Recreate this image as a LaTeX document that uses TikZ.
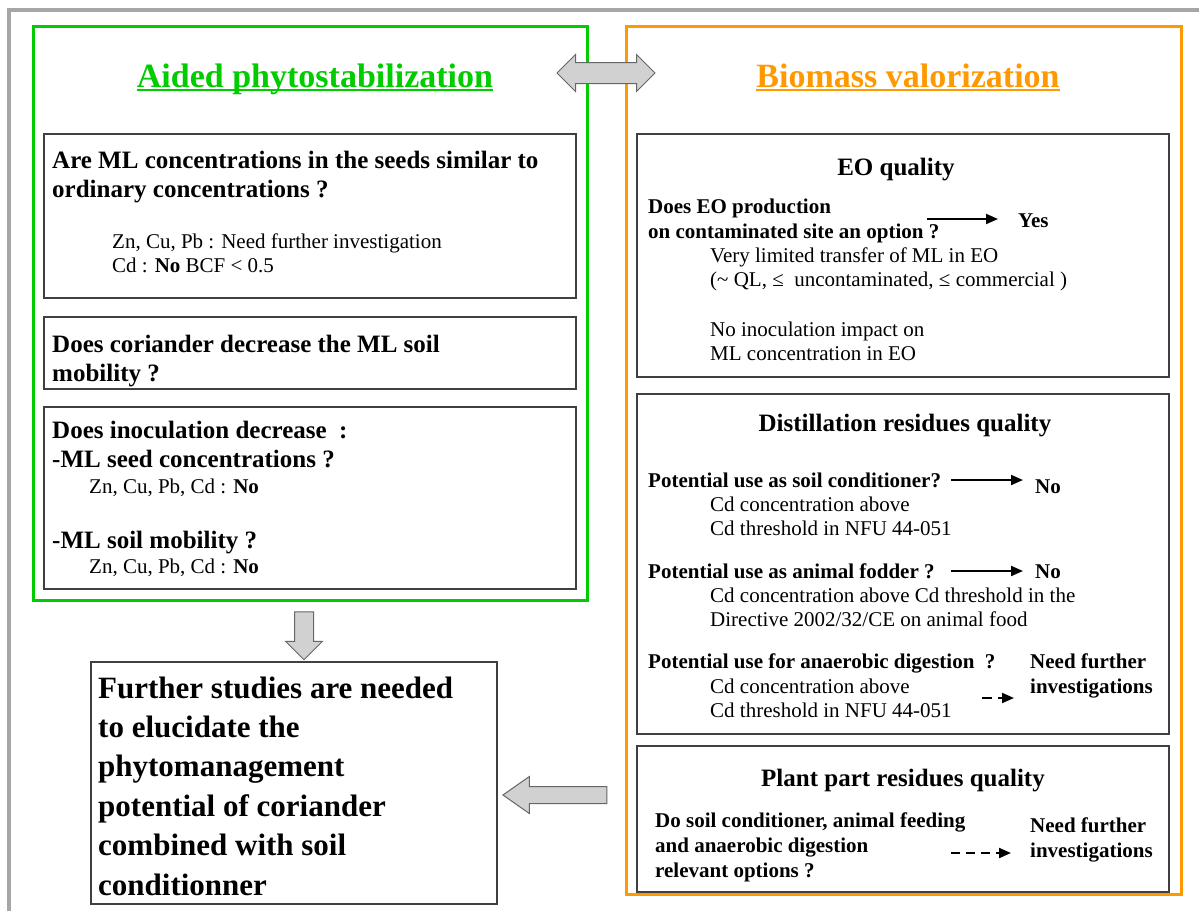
\documentclass[tikz,border=0pt]{standalone}
\usepackage{fontspec}
\setmainfont{Liberation Serif}
\usetikzlibrary{shapes.arrows,arrows.meta}

\definecolor{phytogreen}{RGB}{0,204,0}
\definecolor{valorange}{RGB}{255,153,0}
\newcommand{\txtlines}[1]{\begin{tabular}[t]{@{}l@{}}#1\end{tabular}}

\begin{document}
\begin{tikzpicture}[x=1pt,y=-1pt]

\tikzstyle{frame} = [draw=black!35, line width=3.5pt];
\tikzstyle{panel} = [rectangle, line width=3pt];
\tikzstyle{block} = [draw=black!75, rectangle, line width=1.3pt, minimum width=532pt];
\tikzstyle{plain} = [inner sep=0pt, anchor=base west];
\tikzstyle{ttl} = [inner sep=0pt, anchor=base, font=\fontsize{34}{40}\selectfont\bfseries];
\tikzstyle{head} = [plain, font=\fontsize{25}{29.5}\selectfont\bfseries];
\tikzstyle{hcen} = [inner sep=0pt, anchor=base, font=\fontsize{25}{29}\selectfont\bfseries];
\tikzstyle{bq} = [plain, font=\fontsize{21}{25}\selectfont\bfseries];
\tikzstyle{txt} = [plain, font=\fontsize{21}{24.5}\selectfont];
\tikzstyle{big} = [plain, font=\fontsize{31}{39.4}\selectfont\bfseries];
\tikzstyle{fat} = [single arrow, draw=black!60, fill=black!18, line width=1pt,
	inner xsep=0pt, inner ysep=9pt, single arrow head extend=9pt];
\tikzstyle{go} = [-{Triangle[length=12pt,width=10pt]}, line width=2pt];

\useasboundingbox (0,0) rectangle (1199,911);
\draw[frame] (9,911) -- (9,10) -- (1199,10);

% the two panels
\node[panel, draw=phytogreen, minimum width=554pt, minimum height=574pt] (aps) at (310,313) {};
\node[panel, draw=valorange, minimum width=555pt, minimum height=868pt] (bio) at (903.5,460) {};

\node[ttl, text=phytogreen] (apst) at (315,87) {Aided phytostabilization};
\node[ttl, text=valorange] (biot) at (908,87) {Biomass valorization};
\draw[phytogreen, line width=2.5pt] ([yshift=-3pt]apst.base west) -- ([yshift=-3pt]apst.base east);
\draw[valorange, line width=2.5pt] ([yshift=-3pt]biot.base west) -- ([yshift=-3pt]biot.base east);

\node[double arrow, draw=black!60, fill=black!18, line width=1pt, inner xsep=0pt,
	inner ysep=10pt, double arrow head extend=8pt, minimum height=98pt] (link) at (606,73) {};

% left side
\node[block, minimum height=164pt] (seed) at (310,216) {};
\node[head] (seedq) at (52,168) {\txtlines{Are ML concentrations in the seeds similar to\\ordinary concentrations ?}};
\node[txt] (seedr) at (112,248) {\txtlines{Zn, Cu, Pb : Need further investigation\\Cd : \textbf{No} BCF < 0.5}};

\node[block, minimum height=72pt] (mob) at (310,353) {};
\node[head] (mobq) at (52,352) {\txtlines{Does coriander decrease the ML soil\\mobility ?}};

\node[block, minimum height=182pt] (inoc) at (310,498) {};
\node[head] (inocq) at (52,438) {\txtlines{Does inoculation decrease~~:\\-ML seed concentrations ?}};
\node[txt] (inocr1) at (89,493) {Zn, Cu, Pb, Cd : \textbf{No}};
\node[head] (inocq2) at (52,548) {-ML soil mobility ?};
\node[txt] (inocr2) at (89,573) {Zn, Cu, Pb, Cd : \textbf{No}};

\node[fat, rotate=-90, minimum height=48pt] (down) at (304,631) {};

\node[draw=black!75, line width=1.3pt, minimum width=406pt, minimum height=242pt] (concl) at (294,783) {};
\node[big] (conclt) at (98,698) {\txtlines{Further studies are needed\\to elucidate the\\phytomanagement\\potential of coriander\\combined with soil\\conditionner}};

\node[fat, rotate=180, minimum height=104pt, inner ysep=8pt, single arrow head extend=10pt,
	single arrow tip angle=70] (back) at (561,795) {};

% right side
\node[block, minimum height=243pt] (eo) at (903,255.5) {};
\node[hcen] (eot) at (896,175) {EO quality};
\node[bq] (eoq) at (648,213) {\txtlines{Does EO production\\on contaminated site an option ?}};
\node[bq] (yes) at (1018,227) {Yes};
\coordinate (eoa) at (927,219);
\draw[go, shorten >=20pt] (eoa) -- (eoa -| yes.west);
\node[txt] (eor1) at (710,262) {\txtlines{Very limited transfer of ML in EO\\(\textasciitilde{} QL, ≤~ uncontaminated, ≤ commercial )}};
\node[txt] (eor2) at (710,336) {\txtlines{No inoculation impact on\\ML concentration in EO}};

\node[block, minimum height=340pt] (dist) at (903,564) {};
\node[hcen] (distt) at (905,431) {Distillation residues quality};
\node[bq] (soilq) at (648,487) {Potential use as soil conditioner?};
\node[bq] (no1) at (1035,493) {No};
\coordinate (soila) at (951,480);
\draw[go, shorten >=12pt] (soila) -- (soila -| no1.west);
\node[txt] (soilr) at (710,511) {\txtlines{Cd concentration above\\Cd threshold in NFU 44-051}};
\node[bq] (fodq) at (648,578) {Potential use as animal fodder ?};
\node[bq] (no2) at (1035,578) {No};
\coordinate (foda) at (951,571);
\draw[go, shorten >=12pt] (foda) -- (foda -| no2.west);
\node[txt] (fodr) at (710,602) {\txtlines{Cd concentration above Cd threshold in the\\Directive 2002/32/CE on animal food}};
\node[bq] (anaq) at (648,668) {Potential use for anaerobic digestion~~?};
\node[bq] (need1) at (1030,668) {\txtlines{Need further\\investigations}};
\node[txt] (anar) at (710,693) {\txtlines{Cd concentration above\\Cd threshold in NFU 44-051}};
\coordinate (anaa) at (982,698);
\draw[go, dash pattern=on 10pt off 6pt, shorten >=16pt] (anaa) -- (anaa -| need1.west);

\node[block, minimum height=146pt] (plant) at (903,819) {};
\node[hcen] (plantt) at (903,786) {Plant part residues quality};
\node[bq] (plantq) at (655,827) {\txtlines{Do soil conditioner, animal feeding\\and anaerobic digestion\\relevant options ?}};
\node[bq] (need2) at (1030,832) {\txtlines{Need further\\investigations}};
\coordinate (planta) at (951,853);
\draw[go, dash pattern=on 9pt off 6pt, shorten >=19pt] (planta) -- (planta -| need2.west);

\end{tikzpicture}
\end{document}
